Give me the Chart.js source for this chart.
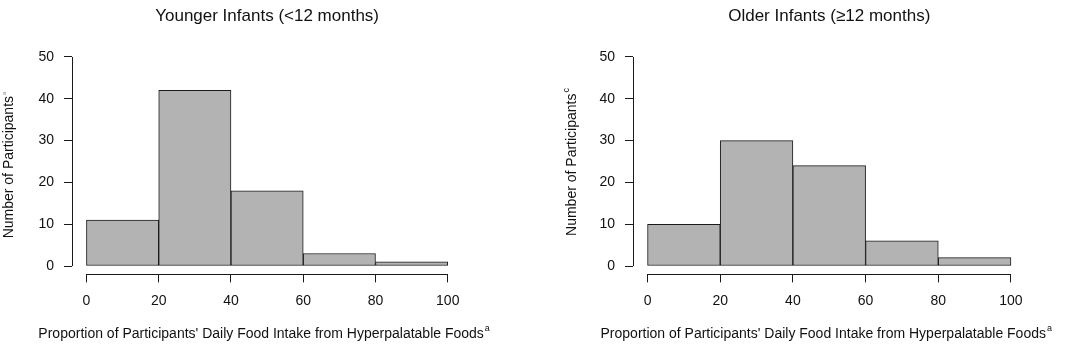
<!DOCTYPE html>
<html>
<head>
<meta charset="utf-8">
<script src="https://cdn.jsdelivr.net/npm/chart.js@4/dist/chart.umd.min.js"></script>
<style>
  html, body { margin: 0; padding: 0; background: #fff; }
  #wrap { position: relative; width: 1084px; height: 345px; overflow: hidden; }
  .panel { position: absolute; top: 0; width: 542px; height: 345px; }
</style>
</head>
<body>
<div id="wrap">
  <div class="panel" style="left:0"><canvas id="c1" width="542" height="345"></canvas></div>
  <div class="panel" style="left:542px"><canvas id="c2" width="542" height="345"></canvas></div>
</div>
<script>
// ---- data ----
const binEdges = [0, 20, 40, 60, 80, 100];
const youngerCounts = [11, 42, 18, 3, 1];
const olderCounts = [10, 30, 24, 6, 2];
const xTickValues = [0, 20, 40, 60, 80, 100];
const yTickValues = [0, 10, 20, 30, 40, 50];
const titles = ["Younger Infants (<12 months)", "Older Infants (\u226512 months)"];
const xTitle = "Proportion of Participants' Daily Food Intake from Hyperpalatable Foods";
const xTitleSup = "a";
const yTitle = "Number of Participants";
const yTitleSups = ["a", "c"];

const FONT = "'Liberation Sans', Arial, sans-serif";
const INK = '#1a1a1a';

function makePoints(counts) {
  return counts.map((c, i) => ({ x: (binEdges[i] + binEdges[i + 1]) / 2, y: c }));
}

function rAxesPlugin(idx, cfg) {
  return {
    id: 'rAxes' + idx,
    afterDraw(chart) {
      const ctx = chart.ctx;
      const xs = chart.scales.x, ys = chart.scales.y;
      const ca = chart.chartArea;
      ctx.save();
      ctx.strokeStyle = INK;
      ctx.lineWidth = 1;
      // x axis line
      ctx.beginPath();
      const yb = Math.round(ca.bottom) + 0.5;
      ctx.moveTo(xs.getPixelForValue(xTickValues[0]), yb);
      ctx.lineTo(xs.getPixelForValue(xTickValues[xTickValues.length - 1]), yb);
      ctx.stroke();
      // y axis line
      ctx.beginPath();
      const xl = Math.round(ca.left) + 0.5;
      ctx.moveTo(xl, ys.getPixelForValue(yTickValues[0]));
      ctx.lineTo(xl, ys.getPixelForValue(yTickValues[yTickValues.length - 1]));
      ctx.stroke();

      const cx = (ca.left + ca.right) / 2;
      ctx.fillStyle = '#111';
      // main title
      ctx.font = '17px ' + FONT;
      ctx.textAlign = 'center';
      ctx.textBaseline = 'alphabetic';
      ctx.fillText(titles[idx], cx, 21);

      // x title with superscript
      ctx.font = '14px ' + FONT;
      const wMain = ctx.measureText(xTitle).width;
      ctx.font = '9px ' + FONT;
      const wSup = ctx.measureText(xTitleSup).width;
      const total = wMain + wSup + 1;
      const x0 = cx - 3 - total / 2;
      ctx.textAlign = 'left';
      ctx.font = '14px ' + FONT;
      ctx.fillText(xTitle, x0, 338);
      ctx.font = '9px ' + FONT;
      ctx.fillText(xTitleSup, x0 + wMain + 1, 331);

      // y title rotated with superscript
      ctx.save();
      ctx.translate(cfg.yTitleX, cfg.yTitleCY);
      ctx.rotate(-Math.PI / 2);
      ctx.font = '14px ' + FONT;
      const wy = ctx.measureText(yTitle).width;
      const supFont = idx === 0 ? '6px ' : '9px ';
      ctx.font = supFont + FONT;
      const wys = ctx.measureText(yTitleSups[idx]).width;
      const ty = wy + wys + 1;
      ctx.textAlign = 'left';
      ctx.font = '14px ' + FONT;
      ctx.fillText(yTitle, -ty / 2, 0);
      ctx.font = supFont + FONT;
      ctx.fillStyle = idx === 0 ? '#888' : '#111';
      ctx.fillText(yTitleSups[idx], -ty / 2 + wy + 1, -7);
      ctx.restore();
      ctx.restore();
    }
  };
}

function makeChart(id, idx, counts, cfg) {
  return new Chart(document.getElementById(id), {
    type: 'bar',
    data: {
      datasets: [{
        data: makePoints(counts),
        backgroundColor: '#b3b3b3',
        borderColor: INK,
        borderWidth: 1,
        borderSkipped: false,
        barPercentage: 1,
        categoryPercentage: 1
      }]
    },
    options: {
      responsive: false,
      animation: false,
      layout: { padding: { left: 0, right: cfg.padRight, top: 48.6, bottom: 0 } },
      plugins: { legend: { display: false }, title: { display: false }, tooltip: { enabled: false } },
      scales: {
        x: {
          type: 'linear',
          min: -4, max: 104,
          offset: false,
          afterBuildTicks: s => { s.ticks = xTickValues.map(v => ({ value: v })); },
          afterFit: s => { s.height = 345 - 274.4 - 0; },
          grid: { display: true, drawOnChartArea: false, drawTicks: true, tickLength: 8, color: INK, offset: false },
          border: { display: false },
          ticks: { color: '#111', font: { family: FONT, size: 14 }, padding: 10.5, maxRotation: 0, autoSkip: false }
        },
        y: {
          type: 'linear',
          min: -2, max: 52,
          afterBuildTicks: s => { s.ticks = yTickValues.map(v => ({ value: v })); },
          afterFit: s => { s.width = cfg.yWidth; },
          grid: { display: true, drawOnChartArea: false, drawTicks: true, tickLength: 8, color: INK },
          border: { display: false },
          ticks: { color: '#111', font: { family: FONT, size: 14 }, padding: 10 }
        }
      }
    },
    plugins: [rAxesPlugin(idx, cfg)]
  });
}

makeChart('c1', 0, youngerCounts, { yWidth: 72, padRight: 542 - 462.2, yTitleX: 13, yTitleCY: 165 });
makeChart('c2', 1, olderCounts, { yWidth: 91, padRight: 542 - 483.5, yTitleX: 34, yTitleCY: 162 });
</script>
</body>
</html>
